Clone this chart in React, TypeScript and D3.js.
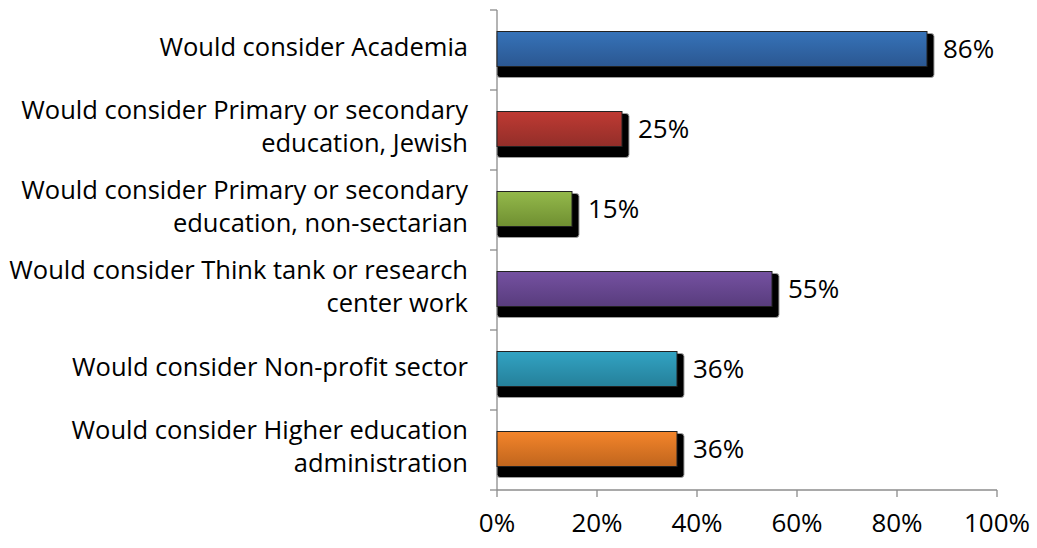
import React from "react";
import * as d3 from "d3";

const categories: string[][] = [
  ["Would consider Academia"],
  ["Would consider Primary or secondary", "education, Jewish"],
  ["Would consider Primary or secondary", "education, non-sectarian"],
  ["Would consider Think tank or research", "center work"],
  ["Would consider Non-profit sector"],
  ["Would consider Higher education", "administration"],
];
const values: number[] = [86, 25, 15, 55, 36, 36];
const colorsTop: string[] = ["#3673b9", "#bf3a33", "#94b94b", "#7551a1", "#32a3c3", "#f4852b"];
const colorsBottom: string[] = ["#2b5791", "#922e29", "#6f8f31", "#583c7d", "#25809a", "#c0651d"];
const xTicks: number[] = [0, 20, 40, 60, 80, 100];

const W = 1037;
const H = 548;
const X0 = 497;
const X1 = 997;
const Y0 = 10;
const Y1 = 490;
const FONT = "'Open Sans', 'Noto Sans', sans-serif";

export default function App() {
  const x = d3.scaleLinear().domain([0, 100]).range([X0, X1]);
  const ids = categories.map((_, i) => String(i));
  const y = d3.scaleBand<string>().domain(ids).range([Y0, Y1]).padding(0);
  const bw = y.bandwidth();
  const barH = 35;

  return (
    <svg
      width={W}
      height={H}
      style={{ position: "absolute", left: 0, top: 0, background: "#fff" }}
    >
      <defs>
        {colorsTop.map((c, i) => (
          <linearGradient key={i} id={`g${i}`} x1="0" y1="0" x2="0" y2="1">
            <stop offset="0%" stopColor={c} />
            <stop offset="100%" stopColor={colorsBottom[i]} />
          </linearGradient>
        ))}
      </defs>

      {/* axes */}
      <line x1={X0} x2={X0} y1={Y0} y2={Y1} stroke="#8c8c8c" strokeWidth={1.3} />
      <line x1={X0} x2={X1} y1={Y1} y2={Y1} stroke="#8c8c8c" strokeWidth={1.3} />
      {ids.concat(["end"]).map((id, i) => {
        const yy = i < ids.length ? (y(id) as number) : Y1;
        return (
          <line key={`yt${i}`} x1={X0 - 7} x2={X0} y1={yy} y2={yy} stroke="#8c8c8c" strokeWidth={1.3} />
        );
      })}
      {xTicks.map((t) => (
        <g key={`xt${t}`}>
          <line x1={x(t)} x2={x(t)} y1={Y1} y2={Y1 + 7} stroke="#8c8c8c" strokeWidth={1.3} />
          <text
            x={x(t)}
            y={Y1 + 42}
            textAnchor="middle"
            fontFamily={FONT}
            fontSize={26}
            fill="#000"
          >
            {`${t}%`}
          </text>
        </g>
      ))}

      {/* bars */}
      {values.map((v, i) => {
        const by = (y(ids[i]) as number) + (bw - barH) / 2 - 1;
        const bx = x(0);
        const ex = x(v);
        return (
          <g key={`b${i}`}>
            <rect
              x={bx}
              y={by + 2}
              width={ex - bx + 7}
              height={barH + 9}
              rx={3}
              fill="#000"
              stroke="#a0a0a0"
              strokeWidth={1}
            />
            <rect
              x={bx}
              y={by}
              width={ex - bx}
              height={barH}
              fill={`url(#g${i})`}
              stroke="#222"
              strokeWidth={1}
            />
            <text
              x={ex + 16}
              y={by + barH / 2 + 2}
              dominantBaseline="middle"
              fontFamily={FONT}
              fontSize={26}
              fill="#000"
            >
              {`${v}%`}
            </text>
          </g>
        );
      })}

      {/* category labels */}
      {categories.map((lines, i) => {
        const cy = (y(ids[i]) as number) + bw / 2;
        const lh = 33;
        const start = cy - ((lines.length - 1) * lh) / 2;
        return (
          <text
            key={`c${i}`}
            textAnchor="end"
            fontFamily={FONT}
            fontSize={25.5}
            fill="#000"
          >
            {lines.map((l, j) => (
              <tspan key={j} x={468} y={start + j * lh - 1} dominantBaseline="middle">
                {l}
              </tspan>
            ))}
          </text>
        );
      })}
    </svg>
  );
}
